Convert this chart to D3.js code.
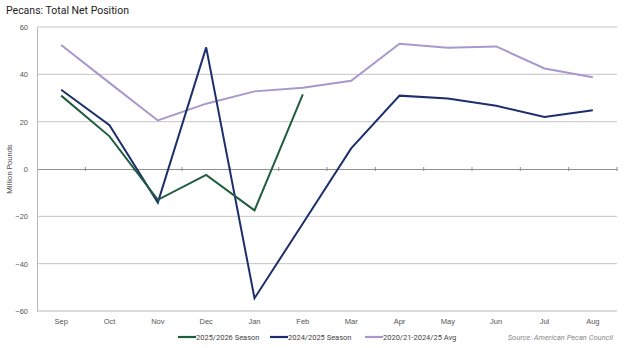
<!DOCTYPE html>
<html>
<head>
<meta charset="utf-8">
<script src="https://cdn.jsdelivr.net/npm/d3@7/dist/d3.min.js"></script>
<style>
  html, body { margin: 0; padding: 0; background: #fff; }
  svg { display: block; font-family: "Roboto", "DejaVu Sans", sans-serif; }
</style>
</head>
<body>
<svg id="chart" width="625" height="348"></svg>
<script>
// Marketing-season months
const months = ["Sep", "Oct", "Nov", "Dec", "Jan", "Feb", "Mar", "Apr", "May", "Jun", "Jul", "Aug"];

// Total net position, million pounds
const season2526 = [31, 13.8, -13, -2.5, -17.5, 31.5];
const season2425 = [33.5, 18.5, -14.2, 51.4, -54.6, -23, 8.7, 31, 29.8, 26.7, 22, 24.8];
const avg5yr = [52.4, 36.4, 20.5, 27.6, 32.8, 34.3, 37.3, 52.9, 51.2, 51.8, 42.5, 38.8];

const yTicks = [-60, -40, -20, 0, 20, 40, 60];

const seriesList = [
  { name: "2025/2026 Season", values: season2526, color: "#1f5d3e" },
  { name: "2024/2025 Season", values: season2425, color: "#1c2f6c" },
  { name: "2020/21-2024/25 Avg", values: avg5yr, color: "#a798cd" }
];

const svg = d3.select("#chart");
const plotLeft = 37, plotRight = 617, plotTop = 27, plotBottom = 311;

const x = d3.scaleBand().domain(months).range([plotLeft, plotRight]).padding(0);
const y = d3.scaleLinear().domain([-60, 60]).range([plotBottom, plotTop]);

// Title
svg.append("text")
  .attr("x", 6).attr("y", 14)
  .attr("font-size", 10.5).attr("fill", "#222")
  .text("Pecans: Total Net Position");

// Horizontal gridlines
svg.append("g")
  .selectAll("line")
  .data(yTicks.filter(d => d !== 0 && d !== -60))
  .join("line")
  .attr("x1", plotLeft).attr("x2", plotRight)
  .attr("y1", d => y(d)).attr("y2", d => y(d))
  .attr("stroke", "#c4c4c4").attr("stroke-width", 1);

// Y axis with labels
const yAxis = svg.append("g")
  .attr("transform", `translate(${plotLeft},0)`)
  .call(d3.axisLeft(y).tickValues(yTicks).tickSize(0).tickPadding(9));
yAxis.select(".domain").attr("stroke", "#b8b8b8");
yAxis.selectAll("text").attr("font-size", 7.5).attr("fill", "#555");

// Bottom edge of plot
svg.append("line")
  .attr("x1", plotLeft).attr("x2", plotRight)
  .attr("y1", y(-60)).attr("y2", y(-60))
  .attr("stroke", "#b8b8b8");

// Zero line with category tick marks
const zeroAxis = svg.append("g")
  .attr("transform", `translate(0,${y(0)})`)
  .call(d3.axisBottom(x).tickSize(0).tickFormat(""));
zeroAxis.select(".domain").attr("stroke", "#8f8f8f").attr("stroke-width", 1.2);
svg.append("g")
  .selectAll("line")
  .data(months)
  .join("line")
  .attr("x1", d => x(d) + x.bandwidth())
  .attr("x2", d => x(d) + x.bandwidth())
  .attr("y1", y(0) - 2).attr("y2", y(0) + 2)
  .attr("stroke", "#8f8f8f");

// Month labels below plot
const xAxis = svg.append("g")
  .attr("transform", `translate(0,${y(-60)})`)
  .call(d3.axisBottom(x).tickSize(0).tickPadding(8));
xAxis.select(".domain").remove();
xAxis.selectAll("text").attr("font-size", 7.5).attr("fill", "#555");

// Y axis title
svg.append("text")
  .attr("transform", `translate(12,${y(0)}) rotate(-90)`)
  .attr("text-anchor", "middle")
  .attr("font-size", 7.5).attr("fill", "#555")
  .text("Million Pounds");

// Series lines
const line = d3.line()
  .x((d, i) => x(months[i]) + x.bandwidth() / 2)
  .y(d => y(d));

svg.append("g")
  .selectAll("path")
  .data(seriesList.slice().reverse())
  .join("path")
  .attr("d", s => line(s.values))
  .attr("fill", "none")
  .attr("stroke", s => s.color)
  .attr("stroke-width", 2)
  .attr("stroke-linejoin", "miter");

// Legend
const legendX = [178, 270, 365];
const legend = svg.append("g");
seriesList.forEach((s, i) => {
  const g = legend.append("g").attr("transform", `translate(${legendX[i]},337)`);
  g.append("line").attr("x1", 0).attr("x2", 18).attr("y1", 0).attr("y2", 0)
    .attr("stroke", s.color).attr("stroke-width", 2.2);
  g.append("text").attr("x", 18).attr("y", 3)
    .attr("font-size", 7.5).attr("fill", "#444").text(s.name);
});

// Source note
svg.append("text")
  .attr("x", 613).attr("y", 340)
  .attr("text-anchor", "end")
  .attr("font-size", 7.5).attr("font-style", "italic").attr("fill", "#888")
  .text("Source: American Pecan Council");
</script>
</body>
</html>
